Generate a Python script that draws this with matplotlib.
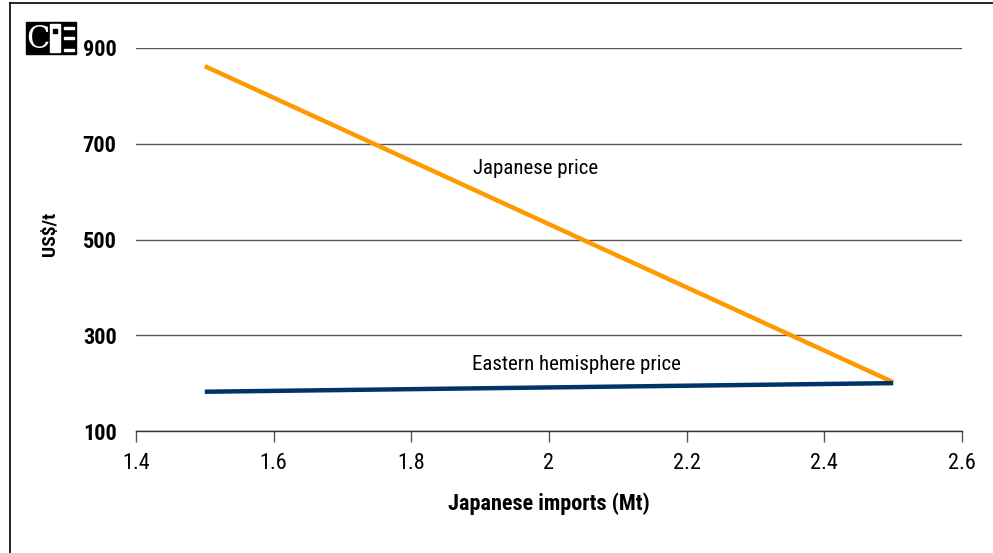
import matplotlib
matplotlib.use("Agg")
import matplotlib.pyplot as plt
from matplotlib.patches import Rectangle
from matplotlib.lines import Line2D
from matplotlib import font_manager

fams = {f.name for f in font_manager.fontManager.ttflist}
FONT = "Liberation Sans"
for cand in ["Liberation Sans Narrow", "Arial Narrow", "Roboto Condensed",
             "Archivo Narrow", "PT Sans Narrow", "Pragati Narrow"]:
    if cand in fams:
        FONT = cand
        break
plt.rcParams["font.family"] = [FONT, "DejaVu Sans"]

imports = [1.5, 2.5]
japanese_price = [862, 202]
eastern_price = [182, 200]
xticks = [1.4, 1.6, 1.8, 2.0, 2.2, 2.4, 2.6]
xtick_labels = ["1.4", "1.6", "1.8", "2", "2.2", "2.4", "2.6"]
yticks = [100, 300, 500, 700, 900]

FS = 16
W, H = 993, 553
fig = plt.figure(figsize=(W / 100, H / 100), dpi=100)
ax = fig.add_axes([136 / W, 1 - 431 / H, (962 - 136) / W, (431 - 48) / H])

ax.plot(imports, japanese_price, color="#FF9900", lw=3.2, solid_capstyle="butt")
ax.plot(imports, eastern_price, color="#003366", lw=3.2, solid_capstyle="butt")

ax.set_xlim(1.4, 2.6)
ax.set_ylim(100, 900)
ax.set_xticks(xticks)
ax.set_xticklabels(xtick_labels, fontsize=FS)
ax.set_yticks(yticks)
ax.set_yticklabels([str(v) for v in yticks], fontsize=FS, fontweight="bold")
for lbl in ax.get_yticklabels():
    lbl.set_verticalalignment("center_baseline")
ax.yaxis.grid(True, color="#555555", lw=1.0)
ax.set_axisbelow(True)
for s in ["top", "right", "left"]:
    ax.spines[s].set_visible(False)
ax.spines["bottom"].set_color("#333333")
ax.spines["bottom"].set_linewidth(1.0)
ax.tick_params(axis="y", length=0, pad=14)
ax.tick_params(axis="x", direction="out", length=8, width=1, color="#555555", pad=8)

ax.set_xlabel("Japanese imports (Mt)", fontsize=FS, fontweight="bold", labelpad=13)
ax.set_ylabel("US$/t", fontsize=14, fontweight="bold")
ax.yaxis.label.set(ha="center", va="center", rotation_mode="default")
ax.yaxis.set_label_coords(-0.104, 0.515)

ax.text(1.98, 649, "Japanese price", fontsize=15, ha="center", va="center")
ax.text(2.04, 239, "Eastern hemisphere price", fontsize=15, ha="center", va="center")

# figure border (top and left)
fig.add_artist(Line2D([10 / W, 10 / W], [0, 1 - 3 / H], transform=fig.transFigure, color="black", lw=1.2))
fig.add_artist(Line2D([10 / W, 1], [1 - 3 / H, 1 - 3 / H], transform=fig.transFigure, color="black", lw=1.2))

# logo
lx0, ly0, lw_, lh_ = 26, 22, 50, 32
fig.add_artist(Rectangle((lx0 / W, 1 - (ly0 + lh_) / H), lw_ / W, lh_ / H,
                         transform=fig.transFigure, color="black"))
fig.text((lx0 + 12) / W, 1 - (ly0 + lh_ / 2 + 1) / H, "C", color="white", fontsize=22,
         family="DejaVu Serif", ha="center", va="center")
fig.add_artist(Rectangle(((lx0 + 24) / W, 1 - (ly0 + 30) / H), 10 / W, 28 / H,
                         transform=fig.transFigure, color="white"))
fig.add_artist(Rectangle(((lx0 + 27) / W, 1 - (ly0 + 11) / H), 4 / W, 4 / H,
                         transform=fig.transFigure, color="black"))
for yy in [5, 15, 27]:
    fig.add_artist(Rectangle(((lx0 + 38) / W, 1 - (ly0 + yy + 2) / H), 10 / W, 2.5 / H,
                             transform=fig.transFigure, color="white"))

fig.savefig("out.png", dpi=100)
